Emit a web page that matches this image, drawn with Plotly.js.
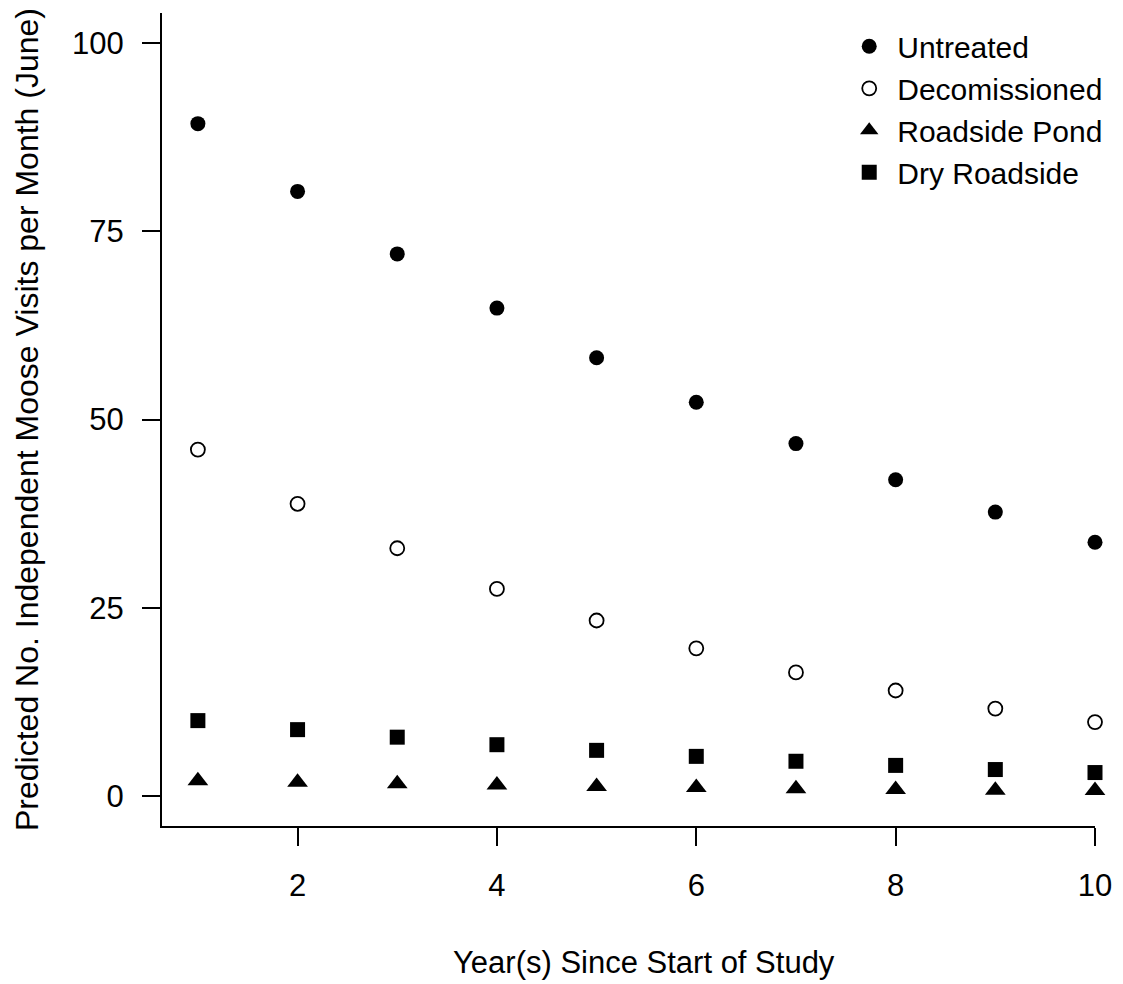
<!DOCTYPE html>
<html>
<head>
<meta charset="utf-8">
<script src="https://cdn.plot.ly/plotly-3.0.1.min.js"></script>
<style>html,body{margin:0;padding:0;background:#fff;}#chart{width:1123px;height:984px;}</style>
</head>
<body>
<div id="chart"></div>
<script>
// Data
const years = [1, 2, 3, 4, 5, 6, 7, 8, 9, 10];
const untreated = [89.3, 80.3, 72.0, 64.8, 58.2, 52.3, 46.8, 42.0, 37.7, 33.7];
const decomissioned = [46.0, 38.8, 32.9, 27.5, 23.3, 19.6, 16.4, 14.0, 11.6, 9.8];
const roadsidePond = [2.0, 1.8, 1.6, 1.45, 1.25, 1.1, 0.95, 0.85, 0.75, 0.7];
const dryRoadside = [10.0, 8.8, 7.8, 6.8, 6.05, 5.25, 4.6, 4.05, 3.5, 3.1];
const seriesNames = ["Untreated", "Decomissioned", "Roadside Pond", "Dry Roadside"];
const xTicks = [2, 4, 6, 8, 10];
const yTicks = [0, 25, 50, 75, 100];
const xTitle = "Year(s) Since Start of Study";
const yTitle = "Predicted No. Independent Moose Visits per Month (June)";

const FONT = "Liberation Sans, Arial, sans-serif";
const INK = "#000000";

const traces = [
  {x: years, y: untreated, name: seriesNames[0], type: "scatter", mode: "markers",
   marker: {symbol: "circle", size: 15, color: INK}, cliponaxis: false},
  {x: years, y: decomissioned, name: seriesNames[1], type: "scatter", mode: "markers",
   marker: {symbol: "circle-open", size: 14, color: INK, line: {width: 1.8, color: INK}}, cliponaxis: false},
  {x: years, y: roadsidePond, name: seriesNames[2], type: "scatter", mode: "markers",
   marker: {symbol: "triangle-up", size: 18, color: INK}, cliponaxis: false},
  {x: years, y: dryRoadside, name: seriesNames[3], type: "scatter", mode: "markers",
   marker: {symbol: "square", size: 15, color: INK}, cliponaxis: false}
];

const layout = {
  width: 1123, height: 984,
  margin: {l: 162, r: 28, t: 13, b: 158, pad: 0},
  paper_bgcolor: "#ffffff", plot_bgcolor: "#ffffff",
  font: {family: FONT, size: 31, color: INK},
  showlegend: true,
  legend: {x: 0.728, y: 0.991, xanchor: "left", yanchor: "top", bgcolor: "rgba(0,0,0,0)",
           font: {family: FONT, size: 30, color: INK}, itemwidth: 46, tracegroupgap: 0},
  annotations: [
    {text: xTitle, xref: "paper", yref: "paper", x: 0.5166, y: -0.1685,
     xanchor: "center", yanchor: "middle", showarrow: false,
     font: {family: FONT, size: 31, color: INK}}
  ],
  xaxis: {
    range: [0.64, 10], tickvals: xTicks, ticktext: xTicks.map(String),
    showgrid: false, zeroline: false, showline: true, linecolor: INK, linewidth: 2,
    ticks: "outside", ticklen: 18, tickwidth: 2, tickcolor: INK,
    tickfont: {family: FONT, size: 31, color: INK}, ticklabelstandoff: 13,
    automargin: false, fixedrange: true
  },
  yaxis: {
    range: [-4, 104], tickvals: yTicks, ticktext: yTicks.map(String),
    showgrid: false, zeroline: false, showline: true, linecolor: INK, linewidth: 2,
    ticks: "outside", ticklen: 18, tickwidth: 2, tickcolor: INK,
    tickfont: {family: FONT, size: 31, color: INK}, ticklabelstandoff: 12,
    title: {text: yTitle, font: {family: FONT, size: 32, color: INK}, standoff: 24},
    automargin: false, fixedrange: true
  }
};

Plotly.newPlot("chart", traces, layout, {displayModeBar: false, staticPlot: true});
</script>
</body>
</html>
